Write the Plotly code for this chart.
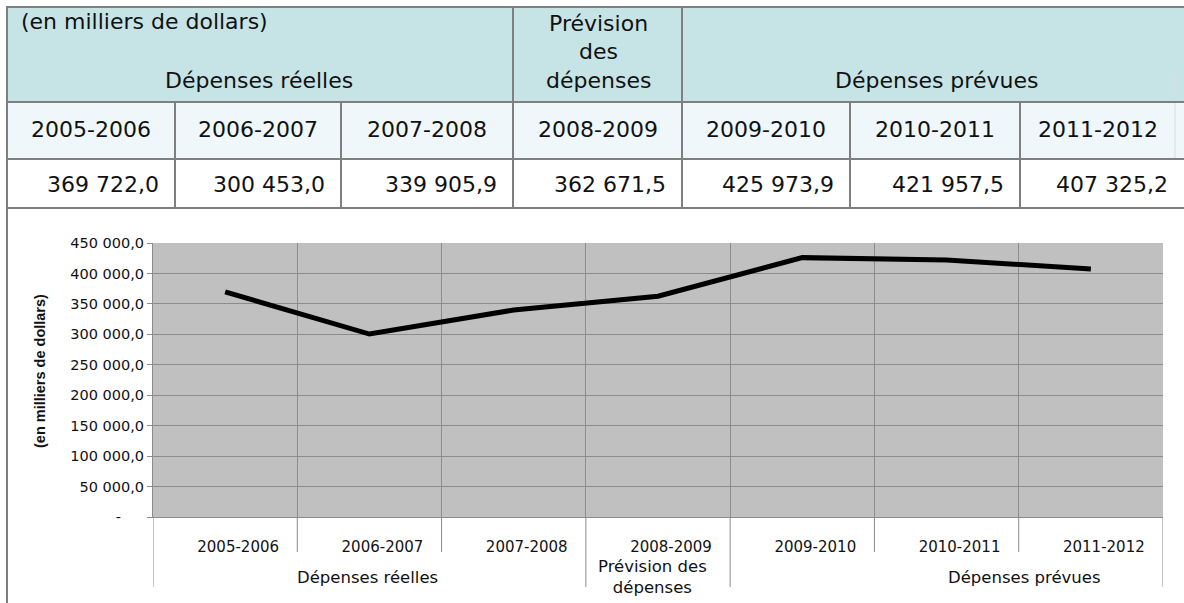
import plotly.graph_objects as go

# ---------------- data ----------------
years = ["2005-2006", "2006-2007", "2007-2008", "2008-2009",
         "2009-2010", "2010-2011", "2011-2012"]
values = [369722.0, 300453.0, 339905.9, 362671.5, 425973.9, 421957.5, 407325.2]
groups = ["Dépenses réelles", "Prévision des<br>dépenses", "Dépenses prévues"]
group_pos = [0.99, 2.96, 5.54]     # label anchor, in category units
group_bounds = [2.5, 3.5]          # separators between groups
y_ticks = [0, 50000, 100000, 150000, 200000, 250000, 300000, 350000, 400000, 450000]
unit_label = "(en milliers de dollars)"

def fmt(v):
    s = f"{v:,.1f}"
    return s.replace(",", " ").replace(".", ",")

tick_text = ["-" + "\u00a0" * 5 if t == 0 else fmt(t) for t in y_ticks]

# ---------------- layout geometry (pixels) ----------------
W, H = 1184, 603
L, R, T, B = 153, 1163, 243, 517
PW, PH = R - L, B - T

def px(x):
    return (x - L) / PW

def py(y):
    return (B - y) / PH

FONT = "DejaVu Sans"
BORDER = "#7f7f7f"
TXT = "#111111"

fig = go.Figure()
fig.add_trace(go.Scatter(
    x=list(range(len(years))), y=values, mode="lines",
    line=dict(color="black", width=5), hoverinfo="skip", showlegend=False))

shapes = []
annots = []

# ---------------- table ----------------
row_y = [7, 102, 159, 208]
col_x = [7, 175, 341, 513, 682, 850, 1020, 1184]

shapes.append(dict(type="rect", xref="paper", yref="paper", x0=px(7), x1=px(1184),
                   y0=py(7), y1=py(102), fillcolor="#c6e4e6", line_width=0, layer="below"))
shapes.append(dict(type="rect", xref="paper", yref="paper", x0=px(7), x1=px(1184),
                   y0=py(102), y1=py(159), fillcolor="#eff7fb", line_width=0, layer="below"))
shapes.append(dict(type="line", xref="paper", yref="paper", x0=px(1175), x1=px(1175),
                   y0=py(70), y1=py(159), line=dict(color="#d6dde0", width=1)))
for yy in row_y:
    shapes.append(dict(type="line", xref="paper", yref="paper", x0=px(6), x1=px(1184),
                       y0=py(yy), y1=py(yy), line=dict(color=BORDER, width=2)))
# left outer border (table + chart frame)
shapes.append(dict(type="line", xref="paper", yref="paper", x0=px(7), x1=px(7),
                   y0=py(7), y1=py(603), line=dict(color=BORDER, width=2)))
for xx in [513, 682]:
    shapes.append(dict(type="line", xref="paper", yref="paper", x0=px(xx), x1=px(xx),
                       y0=py(7), y1=py(102), line=dict(color=BORDER, width=2)))
for xx in col_x[1:-1]:
    shapes.append(dict(type="line", xref="paper", yref="paper", x0=px(xx), x1=px(xx),
                       y0=py(102), y1=py(208), line=dict(color=BORDER, width=2)))

tfont = dict(family=FONT, size=22, color=TXT)
annots.append(dict(text=unit_label, xref="paper", yref="paper", x=px(19), y=py(22),
                   xanchor="left", yanchor="middle", showarrow=False, font=tfont))
annots.append(dict(text="Dépenses réelles", xref="paper", yref="paper", x=px(259), y=py(81),
                   xanchor="center", yanchor="middle", showarrow=False, font=tfont))
for txt, yy in zip(["Prévision", "des", "dépenses"], [23, 52, 81]):
    annots.append(dict(text=txt, xref="paper", yref="paper", x=px(598), y=py(yy),
                       xanchor="center", yanchor="middle", showarrow=False, font=tfont))
annots.append(dict(text="Dépenses prévues", xref="paper", yref="paper", x=px(936), y=py(81),
                   xanchor="center", yanchor="middle", showarrow=False, font=tfont))
for i, (yr, v) in enumerate(zip(years, values)):
    cx = (col_x[i] + col_x[i + 1]) / 2 if i < 6 else (col_x[i] + 1175) / 2
    annots.append(dict(text=yr, xref="paper", yref="paper", x=px(cx), y=py(130),
                       xanchor="center", yanchor="middle", showarrow=False, font=tfont))
    rx = (col_x[i + 1] if i < 6 else 1184) - 14
    annots.append(dict(text=fmt(v), xref="paper", yref="paper", x=px(rx), y=py(184),
                       xanchor="right", yanchor="middle", showarrow=False, font=tfont))

# ---------------- chart extras ----------------
n = len(years)
for k in range(n + 1):
    b = k - 0.5
    long_line = (k == 0 or k == n or b in group_bounds)
    bottom = 587 if long_line else 552
    shapes.append(dict(type="line", xref="x", yref="paper", x0=b, x1=b,
                       y0=0, y1=py(bottom), line=dict(color="#8c8c8c", width=1)))

for g, gx in zip(groups, group_pos):
    annots.append(dict(text=g, xref="x", yref="paper", x=gx,
                       y=py(577), xanchor="center", yanchor="middle", showarrow=False,
                       font=dict(family=FONT, size=16.5, color=TXT)))

annots.append(dict(text="<b>" + unit_label + "</b>", xref="paper", yref="paper",
                   x=px(40), y=py(371), textangle=-90, xanchor="center", yanchor="middle",
                   showarrow=False, font=dict(family="Liberation Sans", size=14.5, color=TXT)))

fig.update_layout(
    width=W, height=H,
    margin=dict(l=L, r=W - R, t=T, b=H - B, pad=0),
    paper_bgcolor="white", plot_bgcolor="#c0c0c0",
    shapes=shapes, annotations=annots, showlegend=False,
    xaxis=dict(range=[-0.5, n - 0.5], tickmode="array", tickvals=list(range(n)),
               ticktext=years, showgrid=False, zeroline=False, ticks="",
               showline=True, linecolor="#8c8c8c", linewidth=1,
               tickfont=dict(family=FONT, size=15, color=TXT),
               ticklabelstandoff=16, ticklabelshift=13,
               minor=dict(tick0=0.5, dtick=1, showgrid=True, gridcolor="#8c8c8c",
                          gridwidth=1, ticks="")),
    yaxis=dict(range=[0, 450000], tickmode="array", tickvals=y_ticks, ticktext=tick_text,
               showgrid=True, gridcolor="#8c8c8c", gridwidth=1, zeroline=False,
               ticks="outside", ticklen=5, tickcolor="#8c8c8c",
               showline=True, linecolor="#8c8c8c", linewidth=1,
               tickfont=dict(family=FONT, size=14.5, color=TXT)),
)

fig.write_html("out.html")
